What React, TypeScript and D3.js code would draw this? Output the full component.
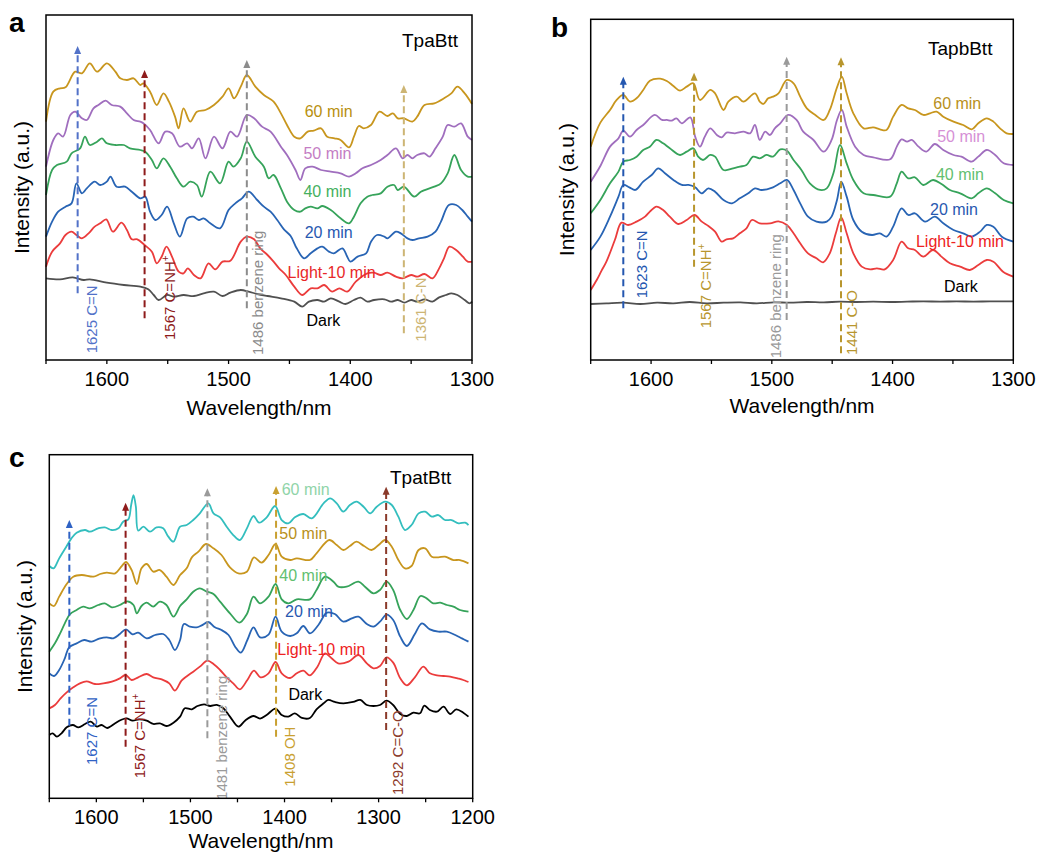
import React from 'react';
import * as d3 from 'd3';

type Pt = [number, number];

// ---------- Panel a : TpaBtt (wavelength nm, intensity a.u.) ----------
const A_60: Pt[] = [[1650,715],[1644,805],[1638.5,815],[1634,818],[1626,865],[1620.5,860],[1614,890],[1608,865],[1600,890],[1593,865],[1589,845],[1583.5,840],[1578,845],[1572.5,825],[1570,830],[1564.5,805],[1559,765],[1553.5,800],[1549,775],[1544,730],[1541,695],[1537,755],[1531.5,715],[1526,745],[1519,750],[1512,765],[1505,790],[1500,815],[1495.5,785],[1490,820],[1485,855],[1478,820],[1471,795],[1463,775],[1457,740],[1452,705],[1446,670],[1441,665],[1435,685],[1430,688],[1424,695],[1419,670],[1413,665],[1408,660],[1401,638],[1397,670],[1393,702],[1389,695],[1383,705],[1376,745],[1369.5,732],[1365,740],[1361,725],[1356,725],[1349,715],[1345,730],[1339,765],[1331,770],[1323,785],[1317,800],[1312,820],[1306,800],[1300,768]];
const A_50: Pt[] = [[1650,580],[1644,660],[1640,680],[1636,670],[1630,735],[1626,745],[1620.5,725],[1616.5,720],[1611,755],[1607,765],[1601,778],[1596,765],[1589,760],[1583.5,740],[1578,720],[1572.5,715],[1570,710],[1564.5,690],[1557.5,650],[1552,685],[1546.5,680],[1540,640],[1534,650],[1530,635],[1524.5,665],[1519,605],[1512,670],[1505,635],[1498.5,685],[1493,670],[1485,735],[1479,725],[1472.5,700],[1465.5,685],[1457,640],[1452,615],[1445,570],[1441,540],[1437,575],[1431,580],[1424,570],[1416,565],[1408,560],[1401,550],[1395.5,560],[1390,575],[1383,585],[1375,600],[1369.5,615],[1362.5,635],[1357,605],[1353,615],[1349,605],[1345,615],[1339,620],[1335,610],[1330,635],[1324,670],[1320,705],[1314.5,700],[1309,710],[1303.5,670],[1300,660]];
const A_40: Pt[] = [[1650,495],[1645,570],[1641,585],[1633,595],[1629,620],[1622,635],[1618,670],[1614,645],[1608,655],[1604,665],[1600,650],[1593,645],[1586,645],[1581,635],[1572.5,630],[1568.5,625],[1563,600],[1559,575],[1553.5,605],[1548,580],[1542.5,545],[1537,520],[1531.5,535],[1526,525],[1522,490],[1515,565],[1507,530],[1500,595],[1496,580],[1490,605],[1485,655],[1478,610],[1471,580],[1467,545],[1463,555],[1457,515],[1452,475],[1446,450],[1441,445],[1437,455],[1432.5,460],[1427,455],[1423,462],[1416,450],[1408,425],[1401,410],[1397,430],[1391.5,470],[1386,490],[1382,495],[1375,500],[1369.5,520],[1364,525],[1361,510],[1356,520],[1347.5,490],[1342,505],[1331,520],[1325.5,530],[1320,560],[1314.5,615],[1309,570],[1303.5,550],[1300,550]];
const A_20: Pt[] = [[1650,370],[1645,415],[1640,445],[1634,460],[1629,470],[1625,530],[1620.5,500],[1616.5,515],[1610,535],[1605.5,525],[1600,535],[1597,550],[1592,520],[1585,520],[1579.5,505],[1572.5,485],[1568.5,490],[1564.5,445],[1560,420],[1555,435],[1550.5,460],[1545,410],[1540,370],[1534,425],[1529,430],[1524.5,420],[1520.5,425],[1515,410],[1507,395],[1500,450],[1494.5,470],[1489,485],[1483.5,505],[1476.5,480],[1471,460],[1465.5,445],[1460,420],[1454.5,392],[1449,372],[1444,335],[1438,305],[1432.5,320],[1427,335],[1423,340],[1417.5,325],[1413.5,320],[1406.5,335],[1402.5,310],[1400,295],[1394,310],[1387,320],[1383,355],[1378,375],[1372,370],[1369.5,365],[1362.5,385],[1358.5,380],[1353,365],[1349,360],[1343.5,365],[1336.5,370],[1330,385],[1325.5,415],[1319,465],[1313,465],[1308,450],[1303.5,430],[1300,415]];
const A_L10: Pt[] = [[1650,280],[1645,325],[1638.5,350],[1634,375],[1629,385],[1625,375],[1620.5,365],[1615,380],[1610,400],[1605.5,410],[1600.5,422],[1595,385],[1588,412],[1583.5,390],[1579.5,362],[1575,362],[1569,345],[1563,325],[1559,290],[1555,310],[1551,340],[1546.5,310],[1541,265],[1537,260],[1533.5,275],[1528.5,255],[1523,245],[1516.5,290],[1511,272],[1505,295],[1498.5,298],[1490,355],[1485,370],[1479,362],[1474,335],[1468,315],[1463,295],[1458.5,275],[1453,255],[1446,220],[1439.5,195],[1432.5,215],[1427,215],[1421.5,225],[1415,205],[1409,215],[1402.5,205],[1395.5,235],[1386,260],[1380.5,262],[1375,255],[1369.5,262],[1362.5,250],[1357,245],[1350,255],[1345,250],[1339,258],[1332.5,245],[1327,275],[1323,305],[1318.5,340],[1313,330],[1307.5,310],[1303.5,295],[1300,295]];
const A_DARK: Pt[] = [[1650,245],[1638.5,242],[1628,248],[1619,240],[1614,242],[1600,232],[1586,225],[1572.5,220],[1566,212],[1561.5,195],[1557.5,180],[1550.5,195],[1545,190],[1537,195],[1528.5,192],[1520.5,200],[1512,205],[1505,192],[1498.5,202],[1490,210],[1483.5,205],[1476.5,198],[1468,192],[1457,185],[1446,175],[1439.5,160],[1434,175],[1427,180],[1421.5,175],[1416,185],[1409,175],[1404,168],[1397,180],[1391.5,187],[1386,175],[1380.5,180],[1372,182],[1366.5,175],[1361,180],[1355.5,172],[1350,180],[1345,175],[1339,182],[1332.5,175],[1327,188],[1321.5,195],[1317,200],[1312,195],[1306,180],[1302,170],[1300,175]];

// ---------- Panel b : TapbBtt ----------
const B_60: Pt[] = [[1650,640],[1642,712],[1634,750],[1628.5,780],[1623,795],[1617.5,775],[1612,785],[1606.5,810],[1601,838],[1592.5,844],[1587,837],[1581.5,822],[1576,808],[1570.5,820],[1565,830],[1559.5,780],[1551,810],[1547,800],[1540,750],[1536,775],[1529,790],[1523.5,775],[1514,800],[1510,775],[1507,768],[1503,785],[1499,790],[1494.5,800],[1487.5,840],[1482,830],[1476.5,790],[1471,755],[1464,735],[1457,720],[1452,750],[1446,818],[1442,850],[1438,800],[1432.5,740],[1424,695],[1416,698],[1410.5,692],[1405,690],[1399.5,730],[1392.5,765],[1387,755],[1381.5,750],[1374.5,735],[1369,740],[1363.5,745],[1358,730],[1349.5,715],[1341.5,705],[1334.5,692],[1329,710],[1322,725],[1316.5,715],[1311,695],[1305.5,680],[1300,678]];
const B_50: Pt[] = [[1650,535],[1642,582],[1634,640],[1627,665],[1623,688],[1617.5,670],[1612,690],[1606.5,705],[1597,735],[1591,720],[1587,720],[1583,718],[1579,725],[1574.5,710],[1567.5,728],[1563.5,670],[1559.5,640],[1555.5,670],[1551,695],[1545.5,675],[1541.5,668],[1537.5,682],[1530.5,680],[1523.5,685],[1518,680],[1514,705],[1510,660],[1505.5,685],[1501.5,675],[1497.5,695],[1493,710],[1486.5,735],[1479.5,720],[1474,685],[1465.5,660],[1457,625],[1450.5,660],[1446,720],[1442,750],[1438,700],[1431,640],[1424,615],[1416,608],[1402,602],[1396.5,640],[1392.5,662],[1388,655],[1384,660],[1378.5,640],[1372,625],[1365,648],[1358,630],[1349.5,615],[1343,610],[1334.5,595],[1329,610],[1322,630],[1315,615],[1308,590],[1300,585]];
const B_40: Pt[] = [[1650,440],[1642,480],[1634,530],[1627,565],[1623,595],[1617.5,600],[1612,610],[1606.5,630],[1601,640],[1595.5,660],[1590,650],[1584.5,635],[1576,615],[1570.5,625],[1565,635],[1561,610],[1557,600],[1551,615],[1547,610],[1540,570],[1532,575],[1526.5,580],[1521,585],[1515.5,610],[1510,605],[1504.5,615],[1499,610],[1493,632],[1487.5,628],[1482,600],[1475.5,570],[1468.5,530],[1460,510],[1454.5,515],[1449,560],[1443.5,645],[1438,590],[1432.5,540],[1424,500],[1416,495],[1402,490],[1396.5,530],[1392.5,565],[1387,545],[1381.5,548],[1374.5,525],[1366.5,540],[1359.5,528],[1352.5,510],[1344,500],[1334.5,485],[1329,500],[1322,515],[1315,500],[1308,480],[1300,470]];
const B_20: Pt[] = [[1650,330],[1642,370],[1634,430],[1627,490],[1623,525],[1618,518],[1613,510],[1606.5,535],[1599.5,555],[1594,575],[1588.5,560],[1581.5,540],[1574.5,525],[1569,525],[1563.5,518],[1558,500],[1552.5,515],[1547,505],[1540,480],[1533,470],[1526.5,485],[1519.5,500],[1514,515],[1508.5,510],[1499,518],[1493,530],[1487.5,540],[1482,510],[1476.5,470],[1470,430],[1463,415],[1454.5,415],[1450.5,430],[1446,480],[1442.5,535],[1438,490],[1432.5,420],[1425.5,385],[1417,375],[1410.5,380],[1405,370],[1399.5,400],[1392.5,455],[1387,435],[1381.5,440],[1373,415],[1365,430],[1358,410],[1349.5,390],[1341.5,380],[1334.5,370],[1327.5,385],[1322,405],[1316.5,400],[1309.5,370],[1300,355]];
const B_L10: Pt[] = [[1650,210],[1645,240],[1641,268],[1637,295],[1630,360],[1624.5,412],[1619,405],[1612,415],[1605,430],[1601,445],[1595.5,460],[1590,450],[1584.5,430],[1577.5,408],[1570.5,420],[1564,435],[1558,415],[1552.5,402],[1547,385],[1541.5,355],[1537.5,362],[1532,365],[1526.5,380],[1521,395],[1516.5,420],[1510,410],[1501.5,410],[1494.5,416],[1487.5,405],[1482,380],[1476.5,350],[1470,320],[1463,305],[1457.5,293],[1452,320],[1447,380],[1442.5,428],[1438,380],[1432.5,320],[1425.5,280],[1418.5,272],[1413,275],[1406.5,272],[1399.5,300],[1392.5,355],[1387,335],[1381.5,330],[1374.5,310],[1366.5,330],[1359.5,310],[1352.5,290],[1344,280],[1336,270],[1329,285],[1322,300],[1316.5,295],[1308.5,265],[1300,250]];
const B_DARK: Pt[] = [[1650,168],[1637,170],[1623,172],[1609,168],[1595,172],[1581.5,170],[1568,174],[1554,170],[1540,172],[1526,173],[1512.5,170],[1498.5,173],[1485,172],[1471,174],[1457,173],[1443.5,175],[1430,174],[1416,175],[1402,174],[1388,175],[1374.5,176],[1360.5,175],[1347,176],[1333,175],[1319.5,176],[1300,176]];

// ---------- Panel c : TpatBtt ----------
const C_60: Pt[] = [[1650,697],[1645.5,690],[1639.5,720],[1631.5,757],[1626.5,780],[1621,797],[1612,805],[1607,800],[1598,810],[1591,813],[1583.5,805],[1576.5,810],[1571.5,830],[1566,837],[1563,880],[1560.5,910],[1558,875],[1555.5,803],[1550,815],[1543,800],[1536,813],[1529,810],[1523.5,785],[1518,770],[1511,815],[1504,820],[1497,835],[1490,855],[1481,885],[1475.5,855],[1468.5,843],[1461.5,815],[1454.5,790],[1447.5,775],[1440,810],[1433,847],[1427,827],[1419,843],[1410,877],[1403,835],[1396,825],[1389,843],[1380,853],[1371,840],[1358.5,885],[1351.5,900],[1344.5,885],[1337.5,860],[1330.5,880],[1323.5,890],[1316,875],[1309,855],[1302,875],[1293,890],[1286,880],[1279,845],[1272,805],[1265,820],[1257.5,855],[1250.5,860],[1243.5,845],[1236.5,850],[1229.5,835],[1222.5,835],[1215,825],[1208,827],[1204.5,820]];
const C_50: Pt[] = [[1650,585],[1645,577],[1639.5,605],[1631.5,643],[1624.5,665],[1615.5,670],[1603,665],[1596,673],[1589,677],[1580,675],[1573,697],[1568.5,709],[1562.5,685],[1557,643],[1552,690],[1546.5,703],[1539.5,680],[1532.5,685],[1525.5,665],[1518,640],[1511,670],[1504,690],[1498.5,723],[1491.5,740],[1483.5,763],[1475.5,750],[1467,730],[1458,693],[1449,675],[1440,680],[1432.5,723],[1424.5,707],[1417,730],[1409.5,763],[1403,725],[1394,715],[1387,720],[1373,715],[1366,735],[1352.5,775],[1344.5,760],[1337.5,745],[1330.5,757],[1323.5,770],[1315.5,757],[1307.5,745],[1300,760],[1293,775],[1286,755],[1279,715],[1272,690],[1265,697],[1257.5,745],[1250.5,750],[1243.5,725],[1236.5,723],[1229.5,725],[1220.5,715],[1213.5,715],[1204.5,705]];
const C_40: Pt[] = [[1650,440],[1644,465],[1638.5,495],[1633.5,525],[1628,553],[1621,565],[1614,575],[1607,570],[1598,580],[1591,585],[1583.5,573],[1575,580],[1567,591],[1560.5,580],[1557,555],[1552,577],[1546.5,587],[1539.5,575],[1532.5,590],[1525.5,580],[1518,545],[1511,577],[1504,597],[1497,620],[1490,630],[1482.5,620],[1475.5,613],[1468.5,590],[1458,555],[1448,527],[1440,553],[1433,605],[1426,585],[1417,605],[1409.5,643],[1403,597],[1396,585],[1387,597],[1373,597],[1366,625],[1357,665],[1348,650],[1343,635],[1334,635],[1321.5,650],[1314.5,635],[1305.5,615],[1298.5,625],[1291.5,650],[1284.5,625],[1277,565],[1270,538],[1263,565],[1255.5,607],[1249,600],[1242,585],[1234.5,587],[1227.5,580],[1220.5,575],[1213.5,565],[1204.5,560]];
const C_20: Pt[] = [[1650,375],[1645,367],[1639.5,385],[1633.5,420],[1629,453],[1621,465],[1613,475],[1605,470],[1597,479],[1589,483],[1582,480],[1575,493],[1568.5,507],[1561.5,492],[1555.5,497],[1546.5,480],[1537.5,490],[1529,493],[1522.5,475],[1516.5,445],[1511,475],[1507,523],[1500.5,515],[1493.5,513],[1488,519],[1481,529],[1474,513],[1467,505],[1459.5,490],[1452.5,455],[1446.5,437],[1439.5,475],[1433,513],[1426,483],[1417,491],[1409.5,545],[1403,500],[1394,487],[1387,495],[1380,517],[1373,495],[1364,520],[1355,557],[1346.5,553],[1337.5,530],[1328.5,540],[1321.5,545],[1312.5,523],[1305.5,515],[1298.5,530],[1291.5,551],[1284.5,535],[1277,485],[1270,457],[1261.5,493],[1254,525],[1245.5,507],[1236.5,500],[1227.5,500],[1218.5,490],[1211.5,480],[1204.5,470]];
const C_L10: Pt[] = [[1650,270],[1644,280],[1638,300],[1631.5,318],[1624.5,333],[1617.5,345],[1610.5,351],[1601.5,343],[1592.5,345],[1583.5,350],[1575,360],[1569,370],[1562.5,355],[1555.5,363],[1546.5,373],[1539.5,363],[1530.5,357],[1522.5,345],[1516.5,323],[1509.5,353],[1503.5,367],[1497,380],[1490,395],[1482,413],[1475.5,403],[1468.5,385],[1461.5,363],[1454.5,345],[1447.5,327],[1439.5,355],[1432.5,383],[1425.5,363],[1417,375],[1409.5,409],[1403,375],[1394,361],[1387,375],[1380,383],[1373,369],[1365,395],[1357,435],[1350,420],[1343,405],[1332,410],[1321.5,430],[1312.5,405],[1305.5,390],[1298.5,397],[1291.5,423],[1284.5,407],[1277,360],[1270,339],[1261.5,363],[1252.5,395],[1245.5,375],[1238,369],[1231,367],[1224,365],[1215,359],[1210,355],[1204.5,349]];
const C_DARK: Pt[] = [[1650,190],[1646.5,195],[1642,185],[1637,195],[1631.5,213],[1625,220],[1619,213],[1612,223],[1606,230],[1599.5,215],[1594.5,220],[1588.5,211],[1580,225],[1574,235],[1568,240],[1561.5,233],[1554.5,237],[1546.5,233],[1539.5,223],[1532.5,225],[1525.5,217],[1518,227],[1511,245],[1506,270],[1498.5,267],[1492.5,277],[1485.5,282],[1479,277],[1472,280],[1465,270],[1458,245],[1449,215],[1442,233],[1433,247],[1426,239],[1419,250],[1409.5,269],[1403,250],[1396,245],[1389,255],[1381.5,241],[1373,241],[1366,267],[1358.5,285],[1353.5,295],[1346.5,289],[1337.5,285],[1327,289],[1319.5,295],[1312.5,280],[1305.5,277],[1298.5,280],[1291.5,293],[1284.5,280],[1277,253],[1270,247],[1263,257],[1256,255],[1251.5,278],[1245.5,265],[1238,260],[1231,275],[1224,253],[1217.5,267],[1210,257],[1204.5,245]];

const SERIES_NAMES = ['60 min', '50 min', '40 min', '20 min', 'Light-10 min', 'Dark'];

// label anchor [wavelength, intensity] for each series name
const A_LABEL_POS: Pt[] = [[1437.5,745],[1438.5,620],[1438.5,505],[1437.5,382],[1451.5,262],[1436,118]];
const B_LABEL_POS: Pt[] = [[1366.3,770],[1363,672],[1364.1,558],[1369,453],[1380.6,355],[1357.4,222]];
const C_LABEL_POS: Pt[] = [[1403,927],[1405.5,795],[1405.5,670],[1399.5,560],[1407.6,448],[1395.9,313]];

// peak markers: position, label, arrow top/bottom (a.u.), label anchor
type Mark = { at: number; text: string; sup?: string; color: string; top: number; bottom: number; labelAt: number; labelFrom: number };
const A_MARKS: Mark[] = [
  { at: 1624, text: '1625 C=N', color: '#5272C8', top: 942, bottom: 200, labelAt: 1608, labelFrom: 20 },
  { at: 1569, text: '1567 C=NH', sup: '+', color: '#8E1B1B', top: 870, bottom: 125, labelAt: 1544, labelFrom: 60 },
  { at: 1485, text: '1486 benzene ring', color: '#8C8C8C', top: 900, bottom: 155, labelAt: 1472, labelFrom: 15 },
  { at: 1356, text: '1361 C-N', color: '#CDB574', top: 825, bottom: 80, labelAt: 1338, labelFrom: 55 },
];
const B_MARKS: Mark[] = [
  { at: 1623, text: '1623 C=N', color: '#2457B0', top: 850, bottom: 155, labelAt: 1603.4, labelFrom: 185 },
  { at: 1564.4, text: '1567 C=NH', sup: '+', color: '#B8962E', top: 862, bottom: 280, labelAt: 1550.4, labelFrom: 95 },
  { at: 1487.7, text: '1486 benzene ring', color: '#9A9A9A', top: 910, bottom: 120, labelAt: 1492.4, labelFrom: 5 },
  { at: 1442.7, text: '1441 C-O', color: '#B8962E', top: 908, bottom: 20, labelAt: 1429.5, labelFrom: 15 },
];
const C_MARKS: Mark[] = [
  { at: 1628.7, text: '1627 C=N', color: '#2F62C4', top: 835, bottom: 185, labelAt: 1599.6, labelFrom: 100 },
  { at: 1568.9, text: '1567 C=NH', sup: '+', color: '#8E1B1B', top: 887, bottom: 155, labelAt: 1548.3, labelFrom: 60 },
  { at: 1482, text: '1481 benzene ring', color: '#9A9A9A', top: 930, bottom: 180, labelAt: 1461.1, labelFrom: -5 },
  { at: 1409, text: '1408 OH', color: '#C9A030', top: 937, bottom: 185, labelAt: 1388.8, labelFrom: 35 },
  { at: 1292, text: '1292 C=C-O', color: '#8B3A2A', top: 935, bottom: 205, labelAt: 1274, labelFrom: 10 },
];

const AB_LINE_COLORS = ['#C8961E', '#A06EBE', '#36A35A', '#2864B4', '#EB3C3C', '#505050'];
const C_LINE_COLORS = ['#33BEBE', '#C8961E', '#36A35A', '#2864B4', '#EB3C3C', '#000000'];
const A_TEXT_COLORS = ['#B8900F', '#C47DC4', '#45B060', '#2858B0', '#E82828', '#000000'];
const B_TEXT_COLORS = ['#B89020', '#D690D6', '#62C070', '#2858B0', '#EE2222', '#000000'];
const C_TEXT_COLORS = ['#90D4A8', '#B89020', '#62C070', '#2858B0', '#EE2222', '#000000'];

const FONT = "'Liberation Sans', Arial, Helvetica, sans-serif";

type PanelCfg = {
  letter: string; letterX: number; letterY: number;
  title: string; titleX: number; titleY: number;
  left: number; right: number; top: number; bottom: number;
  xDomain: [number, number]; yMax: number; xTitleGap: number;
  series: Pt[][]; lineColors: string[]; textColors: string[]; labelPos: Pt[];
  marks: Mark[];
};

const PANELS: PanelCfg[] = [
  { letter: 'a', letterX: 9, letterY: 32, title: 'TpaBtt', titleX: 402, titleY: 47,
    left: 46, right: 472, top: 15, bottom: 360, xDomain: [1650, 1300], yMax: 1035, xTitleGap: 55,
    series: [A_60, A_50, A_40, A_20, A_L10, A_DARK], lineColors: AB_LINE_COLORS, textColors: A_TEXT_COLORS, labelPos: A_LABEL_POS, marks: A_MARKS },
  { letter: 'b', letterX: 551, letterY: 37, title: 'TapbBtt', titleX: 928, titleY: 55,
    left: 590.7, right: 1013.3, top: 19.3, bottom: 360, xDomain: [1650, 1300], yMax: 1022, xTitleGap: 53,
    series: [B_60, B_50, B_40, B_20, B_L10, B_DARK], lineColors: AB_LINE_COLORS, textColors: B_TEXT_COLORS, labelPos: B_LABEL_POS, marks: B_MARKS },
  { letter: 'c', letterX: 9, letterY: 467, title: 'TpatBtt', titleX: 390, titleY: 484,
    left: 49.3, right: 472.7, top: 454.7, bottom: 798.3, xDomain: [1650, 1200], yMax: 1031, xTitleGap: 50,
    series: [C_60, C_50, C_40, C_20, C_L10, C_DARK], lineColors: C_LINE_COLORS, textColors: C_TEXT_COLORS, labelPos: C_LABEL_POS, marks: C_MARKS },
];

function Panel({ p }: { p: PanelCfg }) {
  const x = d3.scaleLinear().domain(p.xDomain).range([p.left, p.right]);
  const y = d3.scaleLinear().domain([0, p.yMax]).range([p.bottom, p.top]);
  const line = d3.line<Pt>().x(d => x(d[0])).y(d => y(d[1])).curve(d3.curveCatmullRom.alpha(0.5));
  const ticks = d3.range(p.xDomain[0], p.xDomain[1] - 1, -50);
  const midY = (p.top + p.bottom) / 2;
  return (
    <g fontFamily={FONT}>
      <text x={p.letterX} y={p.letterY} fontSize={28} fontWeight="bold" fill="#000">{p.letter}</text>
      {p.series.map((s, i) => (
        <path key={i} d={line(s) || ''} fill="none" stroke={p.lineColors[i]} strokeWidth={1.8} strokeLinejoin="round" />
      ))}
      {p.marks.map((m, i) => {
        const ax = x(m.at);
        const yt = y(m.top);
        const yb = y(m.bottom);
        return (
          <g key={i}>
            <line x1={ax} x2={ax} y1={yb} y2={yt + 6} stroke={m.color} strokeWidth={2} strokeDasharray="7,4" />
            <path d={`M${ax},${yt} L${ax - 3.5},${yt + 8} L${ax + 3.5},${yt + 8} Z`} fill={m.color} />
            <text transform={`translate(${x(m.labelAt)},${y(m.labelFrom)}) rotate(-90)`} fontSize={15} fill={m.color}>
              {m.text}
              {m.sup ? <tspan fontSize={10} dy={-6}>{m.sup}</tspan> : null}
            </text>
          </g>
        );
      })}
      {SERIES_NAMES.map((n, i) => (
        <text key={n} x={x(p.labelPos[i][0])} y={y(p.labelPos[i][1])} dy="0.35em" fontSize={16} fill={p.textColors[i]}>{n}</text>
      ))}
      <text x={p.titleX} y={p.titleY} fontSize={19} fill="#000">{p.title}</text>
      <rect x={p.left} y={p.top} width={p.right - p.left} height={p.bottom - p.top} fill="none" stroke="#000" strokeWidth={1.5} />
      {ticks.map(t => (
        <g key={t}>
          <line x1={x(t)} x2={x(t)} y1={p.bottom} y2={p.bottom + 4} stroke="#000" strokeWidth={1.3} />
          {t % 100 === 0 ? (
            <text x={x(t)} y={p.bottom + 26} textAnchor="middle" fontSize={20} fill="#000">{t}</text>
          ) : null}
        </g>
      ))}
      <text x={(p.left + p.right) / 2} y={p.bottom + p.xTitleGap} textAnchor="middle" fontSize={21} fill="#000">Wavelength/nm</text>
      <text transform={`translate(${p.left - 17},${midY}) rotate(-90)`} textAnchor="middle" fontSize={21} fill="#000">Intensity (a.u.)</text>
    </g>
  );
}

export default function App() {
  return (
    <svg width={1044} height={855} style={{ position: 'absolute', left: 0, top: 0, background: '#fff' }}>
      <rect width={1044} height={855} fill="#fff" />
      {PANELS.map(p => <Panel key={p.letter} p={p} />)}
    </svg>
  );
}
